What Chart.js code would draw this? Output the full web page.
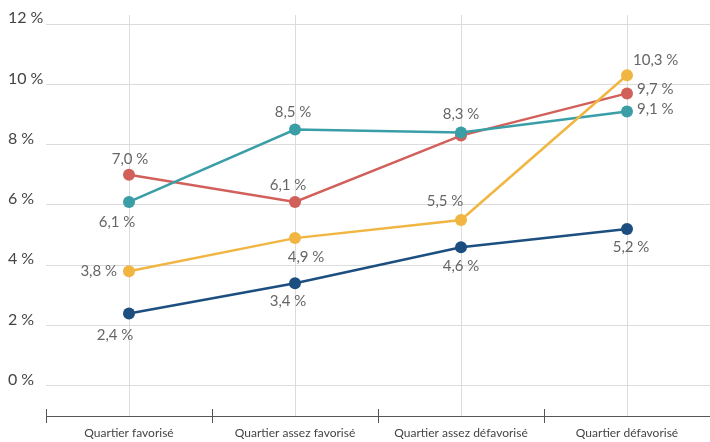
<!DOCTYPE html>
<html>
<head>
<meta charset="utf-8">
<script src="https://cdn.jsdelivr.net/npm/chart.js@4/dist/chart.umd.min.js"></script>
<style>
  html, body { margin: 0; padding: 0; background: #fff; overflow: hidden; }
  #wrap { width: 710px; height: 442px; }
</style>
</head>
<body>
<div id="wrap"><canvas id="myChart"></canvas></div>
<script>
const categories = ['Quartier favorisé', 'Quartier assez favorisé', 'Quartier assez défavorisé', 'Quartier défavorisé'];
const yellowValues = [3.8, 4.9, 5.5, 10.3];
const tealValues = [6.1, 8.5, 8.4, 9.1];
const redValues = [7.0, 6.1, 8.3, 9.7];
const blueValues = [2.4, 3.4, 4.6, 5.2];
const yTicks = [0, 2, 4, 6, 8, 10, 12];

// where each value label sits relative to its point (null = no label)
const yellowLabelPos = [[-12, 0, 'right'], [11, 19, 'center'], [-16, -19, 'center'], [6, -15, 'left']];
const tealLabelPos = [[-12, 20, 'center'], [-2, -17, 'center'], null, [10, -2, 'left']];
const redLabelPos = [[1, -16, 'center'], [-7, -17, 'center'], [0, -21, 'center'], [10, -4, 'left']];
const blueLabelPos = [[-14, 22, 'center'], [-7, 18, 'center'], [0, 19, 'center'], [4, 18, 'center']];

const FONT = 'Lato, "Open Sans", sans-serif';
const fmt = v => v.toFixed(1).replace('.', ',') + '\u202F%';

function line(data, color, labelPos) {
    return {
        data: data,
        labelPos: labelPos,
        borderColor: color,
        backgroundColor: color,
        borderWidth: 2.5,
        pointRadius: 6,
        pointHoverRadius: 6,
        pointBorderWidth: 0,
        tension: 0
    };
}

// value labels next to the points
const valueLabels = {
    id: 'valueLabels',
    afterDatasetsDraw(chart) {
        const c = chart.ctx;
        c.save();
        c.font = '15px ' + FONT;
        c.fillStyle = '#666';
        c.textBaseline = 'middle';
        chart.data.datasets.forEach((ds, i) => {
            chart.getDatasetMeta(i).data.forEach((pt, j) => {
                const pos = ds.labelPos[j];
                if (!pos) return;
                c.textAlign = pos[2];
                c.fillText(fmt(ds.data[j]), pt.x + pos[0], pt.y + pos[1]);
            });
        });
        c.restore();
    }
};

// bottom axis line with ticks between the categories
const bottomAxis = {
    id: 'bottomAxis',
    afterDraw(chart) {
        const c = chart.ctx;
        const x = chart.scales.x;
        const y = chart.chartArea.bottom;
        c.save();
        c.strokeStyle = '#555';
        c.lineWidth = 1;
        c.beginPath();
        c.moveTo(x.left, y + 0.5);
        c.lineTo(x.right, y + 0.5);
        for (let i = 0; i <= categories.length; i++) {
            const px = Math.round(x.getPixelForValue(i - 0.5)) + 0.5;
            c.moveTo(px, y - 7);
            c.lineTo(px, y + 7);
        }
        c.stroke();
        c.restore();
    }
};

new Chart(document.querySelector('#myChart'), {
    type: 'line',
    data: {
        labels: categories,
        datasets: [
            line(yellowValues, '#f1b541', yellowLabelPos),
            line(tealValues, '#3a9ea7', tealLabelPos),
            line(redValues, '#d2605a', redLabelPos),
            line(blueValues, '#1c4f80', blueLabelPos)
        ]
    },
    options: {
        responsive: true,
        maintainAspectRatio: false,
        animation: false,
        layout: { autoPadding: false, padding: { left: 8, top: 15, right: 0, bottom: 0 } },
        plugins: { legend: { display: false }, tooltip: { enabled: false } },
        scales: {
            x: {
                offset: true,
                grid: { offset: false, color: '#dcdcdc', drawTicks: false },
                border: { display: false },
                ticks: { color: '#444', font: { size: 12, family: FONT }, padding: 10, maxRotation: 0 },
                afterFit: s => {
                    s.height = 26;
                    s.paddingLeft = 0;
                    s.paddingRight = 0;
                }
            },
            y: {
                min: -1,
                max: 12.3,
                afterBuildTicks: s => { s.ticks = yTicks.map(v => ({ value: v })); },
                grid: { color: '#dcdcdc', drawTicks: false },
                border: { display: false },
                ticks: {
                    color: '#444',
                    font: { size: 16, family: FONT },
                    crossAlign: 'far',
                    labelOffset: -6,
                    callback: v => v + '\u202F%'
                },
                afterFit: s => { s.width = 38; }
            }
        }
    },
    plugins: [valueLabels, bottomAxis]
});
</script>
</body>
</html>
